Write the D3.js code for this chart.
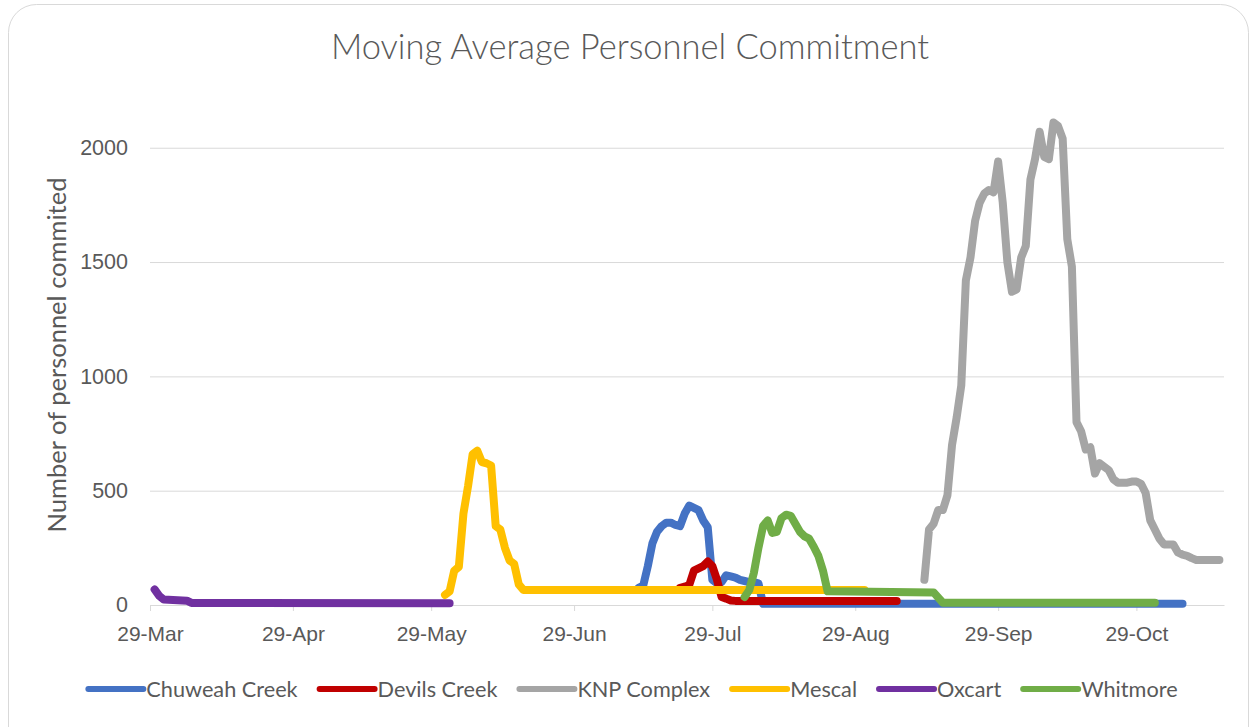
<!DOCTYPE html>
<html>
<head>
<meta charset="utf-8">
<script src="https://cdnjs.cloudflare.com/ajax/libs/d3/7.8.5/d3.min.js"></script>
<style>
  body { margin: 0; background: #fff; }
  svg { font-family: Lato, 'Open Sans', sans-serif; }
</style>
</head>
<body>
<script>
(() => {
  // Series data
  const seriesNames = ['Chuweah Creek', 'Devils Creek', 'KNP Complex', 'Mescal', 'Oxcart', 'Whitmore'];
  const colors = ['#4472C4', '#C00000', '#A5A5A5', '#FFC000', '#7030A0', '#70AD47'];

  const chuweahDates = ['2021-07-13', '2021-07-14', '2021-07-15', '2021-07-16', '2021-07-17', '2021-07-18', '2021-07-19',
    '2021-07-20', '2021-07-21', '2021-07-22', '2021-07-23', '2021-07-24', '2021-07-25', '2021-07-26', '2021-07-27',
    '2021-07-28', '2021-07-29', '2021-07-30', '2021-07-31', '2021-08-01', '2021-08-02', '2021-08-03', '2021-08-04',
    '2021-08-05', '2021-08-06', '2021-08-07', '2021-08-08', '2021-08-09', '2021-11-08'];
  const chuweahValues = [75, 85, 170, 270, 320, 345, 360, 360, 350, 345, 400, 435, 425, 415, 370,
    340, 110, 95, 100, 130, 125, 120, 110, 105, 100, 100, 95, 5, 5];

  const devilsDates = ['2021-07-22', '2021-07-23', '2021-07-24', '2021-07-25', '2021-07-26', '2021-07-27', '2021-07-28',
    '2021-07-29', '2021-07-30', '2021-07-31', '2021-08-01', '2021-08-02', '2021-08-03', '2021-09-07'];
  const devilsValues = [75, 80, 88, 150, 160, 170, 190, 170, 110, 35, 28, 20, 18, 18];

  const knpDates = ['2021-09-13', '2021-09-14', '2021-09-15', '2021-09-16', '2021-09-17', '2021-09-18', '2021-09-19',
    '2021-09-20', '2021-09-21', '2021-09-22', '2021-09-23', '2021-09-24', '2021-09-25', '2021-09-26', '2021-09-27',
    '2021-09-28', '2021-09-29', '2021-09-30', '2021-10-01', '2021-10-02', '2021-10-03', '2021-10-04', '2021-10-05',
    '2021-10-06', '2021-10-07', '2021-10-08', '2021-10-09', '2021-10-10', '2021-10-11', '2021-10-12', '2021-10-13',
    '2021-10-14', '2021-10-15', '2021-10-16', '2021-10-17', '2021-10-18', '2021-10-19', '2021-10-20', '2021-10-21',
    '2021-10-22', '2021-10-23', '2021-10-24', '2021-10-25', '2021-10-26', '2021-10-27', '2021-10-28', '2021-10-29',
    '2021-10-30', '2021-10-31', '2021-11-01', '2021-11-02', '2021-11-03', '2021-11-04', '2021-11-05', '2021-11-06',
    '2021-11-07', '2021-11-08', '2021-11-09', '2021-11-10', '2021-11-11', '2021-11-16'];
  const knpValues = [110, 330, 355, 415, 415, 480, 700, 820, 960, 1420, 1520, 1680, 1760, 1800, 1815,
    1805, 1940, 1760, 1500, 1370, 1380, 1520, 1570, 1860, 1950, 2070, 1960, 1950, 2110, 2095, 2040,
    1600, 1480, 800, 760, 680, 690, 575, 620, 605, 590, 550, 535, 535, 535, 540, 540,
    530, 490, 370, 330, 290, 265, 265, 265, 230, 220, 215, 205, 197, 197];

  const mescalDates = ['2021-06-01', '2021-06-02', '2021-06-03', '2021-06-04', '2021-06-05', '2021-06-06', '2021-06-07',
    '2021-06-08', '2021-06-09', '2021-06-10', '2021-06-11', '2021-06-12', '2021-06-13', '2021-06-14', '2021-06-15',
    '2021-06-16', '2021-06-17', '2021-06-18', '2021-08-31'];
  const mescalValues = [44, 60, 150, 167, 400, 520, 660, 675, 625, 620, 610, 345, 330, 250, 195, 180, 90, 66, 66];

  const oxcartDates = ['2021-03-30', '2021-03-31', '2021-04-01', '2021-04-06', '2021-04-07', '2021-06-02'];
  const oxcartValues = [68, 40, 24, 19, 9, 8];

  const whitmoreDates = ['2021-08-05', '2021-08-06', '2021-08-07', '2021-08-08', '2021-08-09', '2021-08-10', '2021-08-11',
    '2021-08-12', '2021-08-13', '2021-08-14', '2021-08-15', '2021-08-16', '2021-08-17', '2021-08-18', '2021-08-19',
    '2021-08-20', '2021-08-21', '2021-08-22', '2021-08-23', '2021-09-15', '2021-09-17', '2021-11-02'];
  const whitmoreValues = [35, 65, 140, 250, 345, 370, 315, 320, 380, 395, 390, 355, 320, 300, 290,
    255, 215, 150, 60, 55, 10, 10];

  // Axis ticks
  const xTickDates = ['2021-03-29', '2021-04-29', '2021-05-29', '2021-06-29', '2021-07-29', '2021-08-29', '2021-09-29', '2021-10-29'];
  const yTickValues = [0, 500, 1000, 1500, 2000];

  // Dimensions
  const width = 1252;
  const height = 727;
  const plot = { left: 150, right: 1224, top: 102, bottom: 605 };

  const parse = d3.timeParse('%Y-%m-%d');

  const seriesDates = [chuweahDates, devilsDates, knpDates, mescalDates, oxcartDates, whitmoreDates];
  const seriesValues = [chuweahValues, devilsValues, knpValues, mescalValues, oxcartValues, whitmoreValues];
  const series = seriesNames.map((name, i) => ({
    name,
    color: colors[i],
    points: seriesDates[i].map((d, j) => ({ date: parse(d), value: seriesValues[i][j] }))
  }));

  const svg = d3.select('body')
    .append('svg')
    .attr('width', width)
    .attr('height', height);

  // Chart border
  svg.append('rect')
    .attr('x', 8.5)
    .attr('y', 4.5)
    .attr('width', 1240)
    .attr('height', 760)
    .attr('rx', 28)
    .attr('fill', '#fff')
    .attr('stroke', '#d9d9d9');

  // Scales
  const x = d3.scaleTime()
    .domain([parse('2021-03-29'), parse('2021-11-17')])
    .range([plot.left, plot.right]);

  const y = d3.scaleLinear()
    .domain([0, 2200])
    .range([plot.bottom, plot.top]);

  // Title
  svg.append('text')
    .attr('x', 630)
    .attr('y', 59)
    .attr('text-anchor', 'middle')
    .style('font-size', '34.5px')
    .style('font-weight', 300)
    .style('fill', '#595959')
    .text('Moving Average Personnel Commitment');

  // Y axis with gridlines
  const yAxis = d3.axisLeft(y)
    .tickValues(yTickValues)
    .tickFormat(d3.format('d'))
    .tickSizeInner(-(plot.right - plot.left))
    .tickSizeOuter(0)
    .tickPadding(22);

  svg.append('g')
    .attr('transform', `translate(${plot.left},0)`)
    .call(yAxis)
    .call(g => g.select('.domain').remove())
    .call(g => g.selectAll('line').attr('stroke', '#d9d9d9'))
    .call(g => g.selectAll('text').style('font-size', '21.5px').style('fill', '#595959').style('font-family', null));

  // X axis
  const xAxis = d3.axisBottom(x)
    .tickValues(xTickDates.map(parse))
    .tickSizeInner(6)
    .tickSizeOuter(0)
    .tickPadding(15)
    .tickFormat(d3.timeFormat('%d-%b'));

  svg.append('g')
    .attr('transform', `translate(0,${plot.bottom})`)
    .call(xAxis)
    .call(g => g.select('.domain').attr('stroke', '#d9d9d9'))
    .call(g => g.selectAll('line').attr('stroke', '#d9d9d9'))
    .call(g => g.selectAll('text').style('font-size', '21px').style('fill', '#595959').style('font-family', null));

  // Y axis title
  svg.append('text')
    .attr('transform', 'translate(66,355) rotate(-90)')
    .attr('text-anchor', 'middle')
    .style('font-size', '25.5px')
    .style('fill', '#595959')
    .text('Number of personnel commited');

  // Lines
  const line = d3.line()
    .x(d => x(d.date))
    .y(d => y(d.value));

  svg.append('g')
    .selectAll('path')
    .data(series)
    .enter()
    .append('path')
    .attr('d', d => line(d.points))
    .attr('fill', 'none')
    .attr('stroke', d => d.color)
    .attr('stroke-width', 8)
    .attr('stroke-linejoin', 'round')
    .attr('stroke-linecap', 'round');

  // Legend
  const leg = svg.append('g');
  const items = leg.selectAll('g')
    .data(series)
    .enter()
    .append('g');

  items.append('line')
    .attr('x1', 0)
    .attr('x2', 55)
    .attr('stroke', d => d.color)
    .attr('stroke-width', 6)
    .attr('stroke-linecap', 'round');

  items.append('text')
    .attr('x', 58)
    .attr('dy', '0.35em')
    .style('font-size', '21.7px')
    .style('fill', '#595959')
    .text(d => d.name);

  let offset = 0;
  items.each(function () {
    const w = 58 + this.querySelector('text').getComputedTextLength();
    d3.select(this).attr('transform', `translate(${offset},0)`);
    offset += w + 22;
  });
  offset -= 22;
  leg.attr('transform', `translate(${633 - offset / 2},689)`);
})();
</script>
</body>
</html>
